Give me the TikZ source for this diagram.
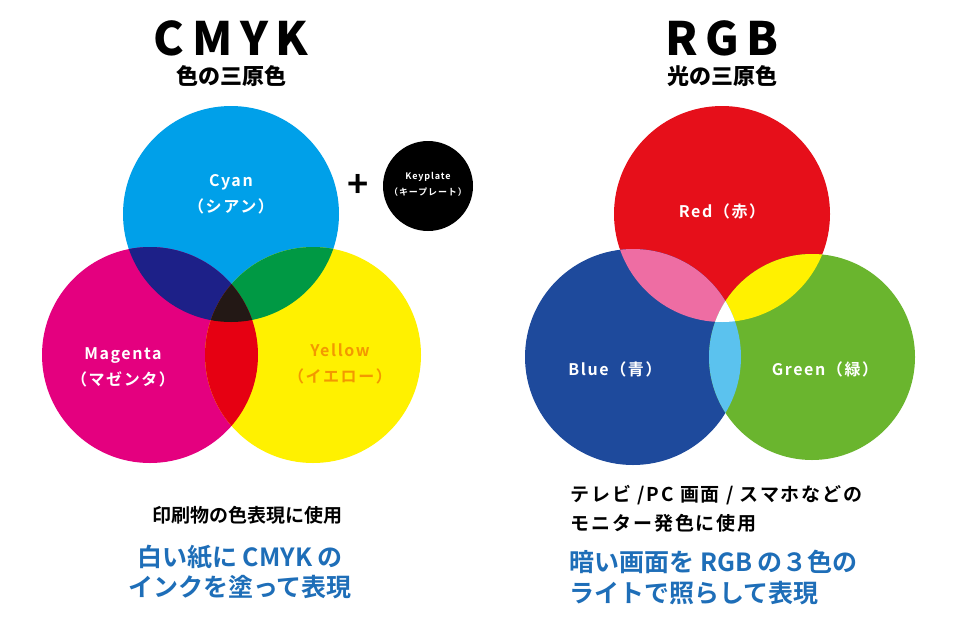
\documentclass[tikz,border=0pt]{standalone}
\usepackage{fontspec}
\newfontfamily\jp{Noto Sans CJK JP}[BoldFont={* Bold}]
\newfontfamily\jpl{Noto Sans CJK JP}[BoldFont={* Bold},LetterSpace=10]
\newfontfamily\jpb{Noto Sans CJK JP Black}
\definecolor{cC}{HTML}{00A0E9}
\definecolor{cM}{HTML}{E4007F}
\definecolor{cY}{HTML}{FFF100}
\definecolor{cCM}{HTML}{1D2088}
\definecolor{cCY}{HTML}{009944}
\definecolor{cMY}{HTML}{E60012}
\definecolor{cK}{HTML}{231815}
\definecolor{rR}{HTML}{E60F1A}
\definecolor{rB}{HTML}{1E4A9C}
\definecolor{rG}{HTML}{6AB52E}
\definecolor{rRB}{HTML}{EE6DA3}
\definecolor{rRG}{HTML}{FFF100}
\definecolor{rBG}{HTML}{5BC2EE}
\definecolor{txtblue}{HTML}{1E6EB8}
\definecolor{yel}{HTML}{F39800}
\tikzset{lab/.style={text=white,font=\jpl\bfseries\fontsize{16}{26}\selectfont,align=center},
 title/.style={font=\jpb\fontsize{46}{48}\selectfont},
 sub/.style={font=\jpb\fontsize{22}{26}\selectfont},
 body/.style={font=\jpl\bfseries\fontsize{19}{22}\selectfont,align=left,anchor=west},
 bl/.style={font=\jp\bfseries\fontsize{25}{30}\selectfont,text=txtblue}}
\begin{document}
\begin{tikzpicture}[x=1pt,y=-1pt]
\useasboundingbox (0,0) rectangle (960,640);
\fill[white] (0,0) rectangle (960,640);
% CMYK
\def\rr{108}
\fill[cC] (231,214) circle (\rr);
\fill[cM] (150,355) circle (\rr);
\fill[cY] (313,355) circle (\rr);
\begin{scope}\clip (231,214) circle (\rr); \fill[cCM] (150,355) circle (\rr); \fill[cCY] (313,355) circle (\rr);\end{scope}
\begin{scope}\clip (150,355) circle (\rr); \fill[cMY] (313,355) circle (\rr);
 \clip (313,355) circle (\rr); \fill[cK] (231,214) circle (\rr);\end{scope}
\fill[black] (428,186) circle (45);
\node[font=\jp\bfseries\fontsize{36}{36}\selectfont] (plus) at (358,186) {+};
\node[lab] (cy) at (231,194) {Cyan\\（シアン）};
\node[lab] (ma) at (123,367) {Magenta\\（マゼンタ）};
\node[lab,text=yel] (ye) at (340,364) {Yellow\\（イエロー）};
\node[lab,font=\jpl\bfseries\fontsize{9}{16}\selectfont] (ke) at (428,184) {Keyplate\\（キープレート）};
\node[title] (t1) at (231,38) {C\,M\,Y\,K};
\node[sub] (s1) at (231,76) {色の三原色};
\node[font=\jp\bfseries\fontsize{19}{22}\selectfont] (b1) at (247,515) {印刷物の色表現に使用};
\node[bl] (b2) at (240,557) {白い紙に CMYK の};
\node[bl] (b3) at (240,587) {インクを塗って表現};
% RGB
\fill[rR] (722,214) circle (\rr);
\fill[rB] (633,357) circle (\rr);
\fill[rG] (812,357) circle (103);
\begin{scope}\clip (722,214) circle (\rr); \fill[rRB] (633,357) circle (\rr); \fill[rRG] (812,357) circle (103);\end{scope}
\begin{scope}\clip (633,357) circle (\rr); \fill[rBG] (812,357) circle (103);
 \clip (812,357) circle (103); \fill[white] (722,214) circle (\rr);\end{scope}
\node[lab] (re) at (722,211) {Red（赤）};
\node[lab] (bu) at (615,369) {Blue（青）};
\node[lab] (gr) at (825,369) {Green（緑）};
\node[title] (t2) at (722,38) {R\,G\,B};
\node[sub] (s2) at (722,76) {光の三原色};
\node[body] (r1) at (567,495) {テレビ /PC 画面 / スマホなどの};
\node[body] (r2) at (567,523) {モニター発色に使用};
\node[bl,anchor=west] (r3) at (566,562) {暗い画面を RGB の３色の};
\node[bl,anchor=west] (r4) at (566,593) {ライトで照らして表現};
\end{tikzpicture}
\end{document}
